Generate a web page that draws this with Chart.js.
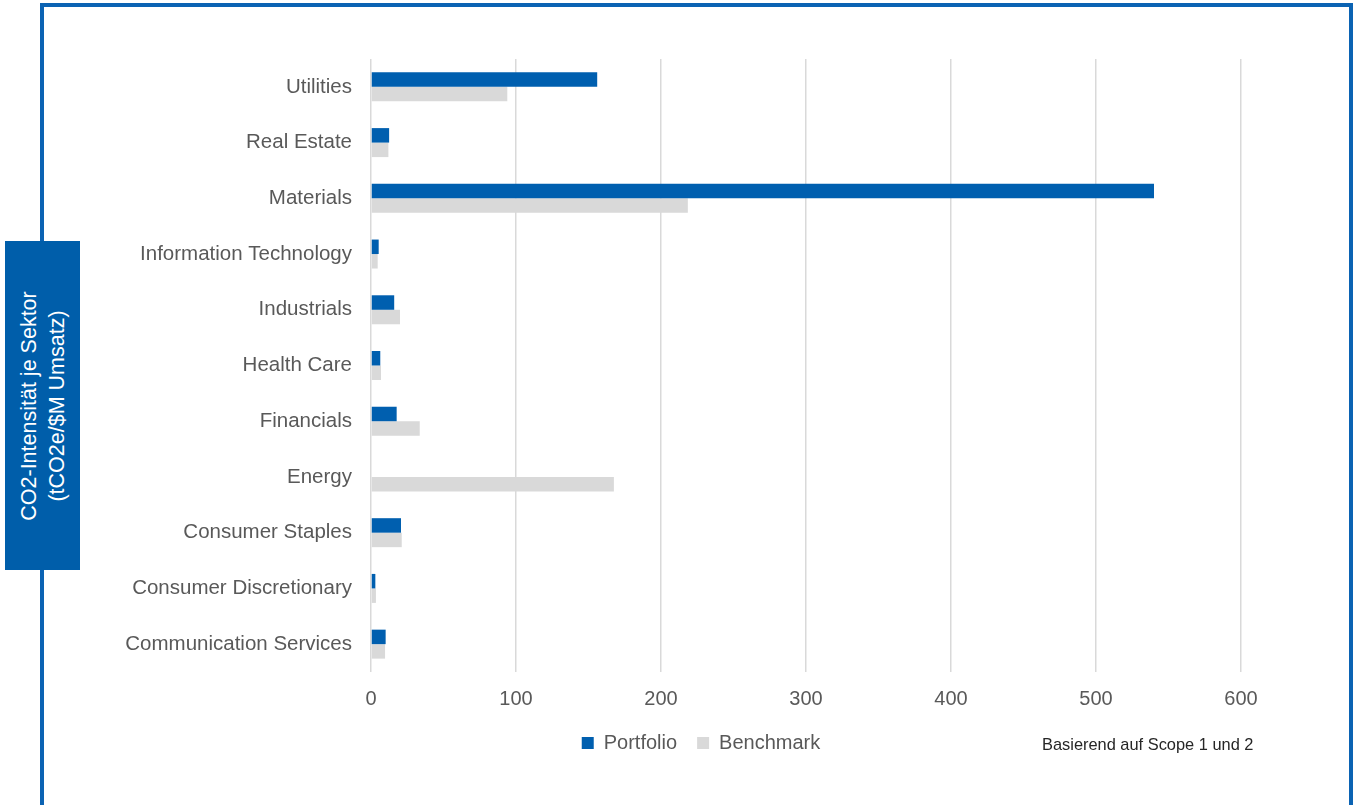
<!DOCTYPE html>
<html>
<head>
<meta charset="utf-8">
<script src="https://cdn.jsdelivr.net/npm/chart.js@4.4.1/dist/chart.umd.min.js"></script>
<style>
  body { margin: 0; background: #fff; font-family: "Liberation Sans", Arial, sans-serif; }
  #rahmen { position: absolute; left: 40px; top: 3px; width: 1313px; height: 900px;
            box-sizing: border-box; border: 4px solid #0b63b3; }
  #grafik { position: absolute; left: 0; top: 0; }
  #achsentitel { position: absolute; left: 5px; top: 241px; width: 75px; height: 329px;
                 background: #005eaa; }
  #achsentitel div { position: absolute; left: 50%; top: 50%; width: 320px;
                     transform: translate(-50%, -50%) rotate(-90deg);
                     color: #fff; font-size: 21.5px; line-height: 28px; text-align: center; }
  #hinweis { position: absolute; left: 1042px; top: 735px; font-size: 16.4px; color: #262626; }
</style>
</head>
<body>
<div id="rahmen"></div>
<canvas id="grafik" width="1358" height="805"></canvas>
<div id="achsentitel"><div>CO2-Intensität je Sektor<br>(tCO2e/$M Umsatz)</div></div>
<div id="hinweis">Basierend auf Scope 1 und 2</div>
<script>
const sektoren = [
  "Utilities", "Real Estate", "Materials", "Information Technology", "Industrials",
  "Health Care", "Financials", "Energy", "Consumer Staples", "Consumer Discretionary",
  "Communication Services"
];
const portfolio = [156, 12.5, 540, 5.3, 16, 6.4, 17.7, 0, 20.7, 3, 10.1];
const benchmark = [94, 12, 218.5, 4.6, 20, 6.9, 33.6, 167.5, 21.2, 3.4, 9.7];
const xTicks = [0, 100, 200, 300, 400, 500, 600];

const grau = '#595959';

// Legende wie im Original mittig über die ganze Breite und etwas höher setzen
const legendeVerschieben = {
  id: 'legendeVerschieben',
  afterLayout(chart) {
    const lg = chart.legend;
    lg.left = 44;
    lg.right = 1358;
    lg.width = lg.right - lg.left;
    lg.top -= 13;
    lg.bottom -= 13;
  }
};

new Chart(document.getElementById('grafik').getContext('2d'), {
  type: 'bar',
  data: {
    labels: sektoren,
    datasets: [
      { label: 'Portfolio', data: portfolio, backgroundColor: '#005faf' },
      { label: 'Benchmark', data: benchmark, backgroundColor: '#d9d9d9' }
    ]
  },
  options: {
    indexAxis: 'y',
    responsive: false,
    animation: false,
    categoryPercentage: 0.52,
    barPercentage: 1,
    layout: { padding: { left: 0, right: 117, top: 59, bottom: 29 } },
    scales: {
      x: {
        min: xTicks[0],
        max: xTicks[xTicks.length - 1],
        afterBuildTicks: (scale) => { scale.ticks = xTicks.map(v => ({ value: v })); },
        grid: { color: '#d9d9d9', lineWidth: 1.5, drawTicks: false },
        border: { display: false },
        ticks: { padding: 15, color: grau, font: { family: 'Liberation Sans', size: 20 } }
      },
      y: {
        afterFit: (scale) => { scale.width = 371; },
        grid: { display: false, drawTicks: false },
        border: { display: false },
        ticks: { padding: 19, color: grau, font: { family: 'Liberation Sans', size: 20.5 } }
      }
    },
    plugins: {
      legend: {
        position: 'bottom',
        labels: {
          boxWidth: 12, boxHeight: 12, padding: 20, color: grau,
          font: { family: 'Liberation Sans', size: 20 }
        }
      },
      tooltip: { enabled: false }
    }
  },
  plugins: [legendeVerschieben]
});
</script>
</body>
</html>
